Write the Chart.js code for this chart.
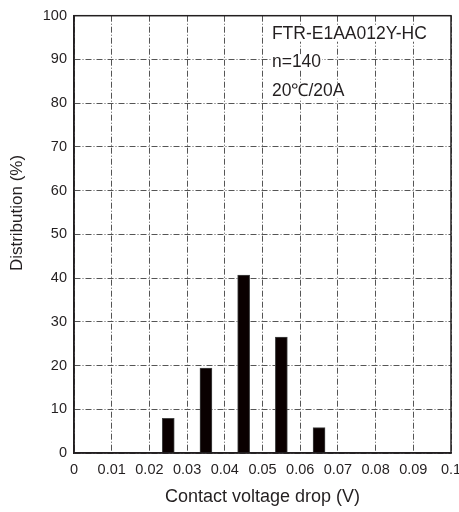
<!DOCTYPE html>
<html>
<head>
<meta charset="utf-8">
<script src="https://cdn.jsdelivr.net/npm/chart.js@4"></script>
<style>
  body { margin: 0; background: #fff; }
  canvas { display: block; }
</style>
</head>
<body>
<canvas id="dist-chart" width="459" height="512"></canvas>
<script>
const ctx = document.getElementById('dist-chart');

// bin centers (V) and share of samples (%)
const binCenters = [0.025, 0.035, 0.045, 0.055, 0.065];
const distribution = [7.9, 19.4, 40.7, 26.5, 5.8];
const noteLines = ["FTR-E1AA012Y-HC", "n=140", "20\u2103/20A"];
const yTitle = 'Distribution (%)';

const FONT = "'Liberation Sans', Arial, sans-serif";
const GRID = '#555';
const INK = '#231f20';

const points = binCenters.map((x, i) => ({ x: x, y: distribution[i] }));

// solid frame round the plot, the text block top right, and the y title
// (y title sits a bit above the middle in the original, so drawn by hand)
const framePlugin = {
    id: 'frame',
    afterDatasetsDraw(chart) {
        const c = chart.ctx;
        const a = chart.chartArea;
        c.save();
        c.font = '17.5px ' + FONT;
        c.textBaseline = 'alphabetic';
        const x0 = chart.scales.x.getPixelForValue(0.0525);
        noteLines.forEach((t, i) => {
            const y = a.top + 23 + i * 28.5;
            const w = c.measureText(t).width;
            c.fillStyle = '#fff';
            c.fillRect(x0 - 1, y - 13, w + 2, 16);
            c.fillStyle = INK;
            c.fillText(t, x0, y);
        });
        c.strokeStyle = INK;
        c.lineWidth = 1.5;
        c.strokeRect(a.left, a.top, a.right - a.left, a.bottom - a.top);

        c.translate(17, 213);
        c.rotate(-Math.PI / 2);
        c.font = '17px ' + FONT;
        c.textAlign = 'center';
        c.textBaseline = 'middle';
        c.fillStyle = INK;
        c.fillText(yTitle, 0, 0);
        c.restore();
    }
};

const config = {
    type: 'bar',
    data: {
        datasets: [
            {
                label: 'Distribution',
                data: points,
                backgroundColor: '#0a0000',
                borderColor: '#444',
                borderWidth: 1,
                barThickness: 12,
            },
        ]
    },
    options: {
        responsive: false,
        animation: false,
        layout: { padding: { top: 11, right: 8, left: 0, bottom: 0 } },
        plugins: {
            legend: { display: false },
            tooltip: { enabled: false },
        },
        scales: {
            x: {
                type: 'linear',
                min: 0,
                max: 0.1,
                offset: false,
                afterFit: (s) => { s.height = 59; s.paddingLeft = 0; s.paddingRight = 0; },
                ticks: {
                    stepSize: 0.01,
                    autoSkip: false,
                    maxRotation: 0,
                    padding: 8,
                    color: INK,
                    font: { family: FONT, size: 14.5 },
                    callback: (v) => String(Number(v.toFixed(2))),
                },
                grid: { color: GRID, lineWidth: 1, drawTicks: false, offset: false },
                border: { color: INK, width: 1.5, dash: [6, 2, 1, 2] },
                title: {
                    display: true,
                    text: 'Contact voltage drop (V)',
                    color: INK,
                    font: { family: FONT, size: 18 },
                    padding: { top: 6 },
                },
            },
            y: {
                min: 0,
                max: 100,
                afterFit: (s) => { s.width = 74; },
                ticks: {
                    stepSize: 10,
                    padding: 7,
                    color: INK,
                    font: { family: FONT, size: 14.5 },
                },
                grid: { color: GRID, lineWidth: 1, drawTicks: false },
                border: { color: INK, width: 1.5, dash: [6, 2, 1, 2] },
                title: { display: false },
            },
        }
    },
    plugins: [framePlugin],
};

new Chart(ctx, config);
</script>
</body>
</html>
